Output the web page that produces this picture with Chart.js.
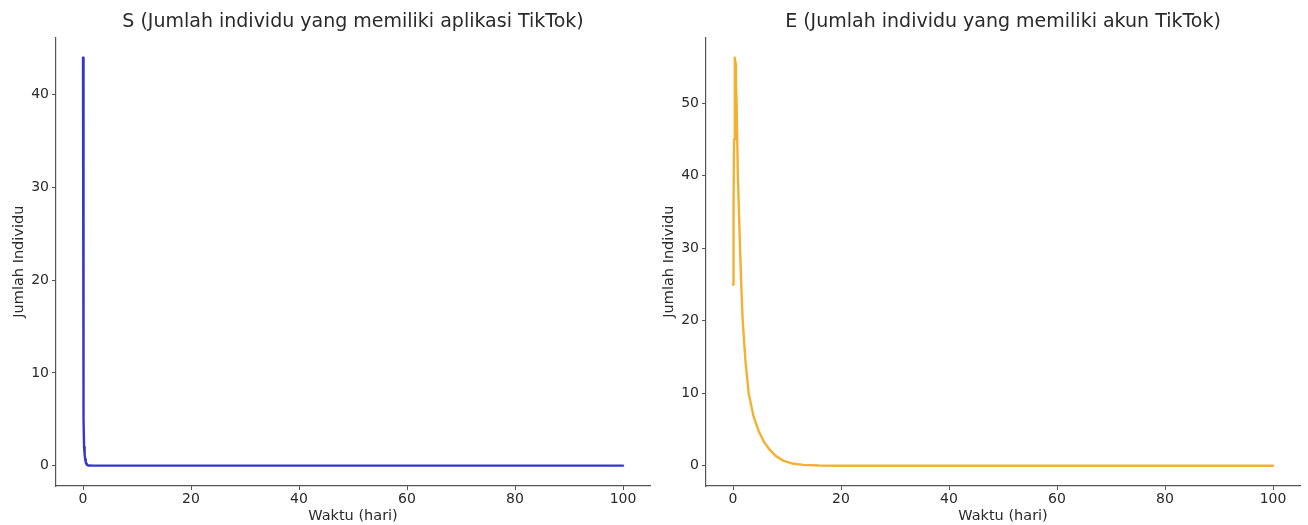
<!DOCTYPE html>
<html>
<head>
<meta charset="utf-8">
<script src="https://cdn.jsdelivr.net/npm/chart.js"></script>
<style>
  html, body { margin: 0; padding: 0; background: #fff; }
  .box { position: absolute; top: 0; width: 654px; height: 525px; }
  #left { left: 0; }
  #right { left: 654px; }
</style>
</head>
<body>
<div class="box" id="left"><canvas id="chartS"></canvas></div>
<div class="box" id="right"><canvas id="chartE"></canvas></div>
<script>
// values
const timeS = [0, 0.05, 0.1, 0.15, 0.2, 0.3, 0.4, 0.5, 0.6, 0.7, 0.8, 1, 2, 5, 10, 20, 40, 60, 80, 100];
const valS = [44, 24, 11, 5, 2, 1.2, 0.7, 0.4, 0.2, 0.1, 0.05, 0.01, 0, 0, 0, 0, 0, 0, 0, 0];

const timeE = [0, 0.1, 0.2, 0.3, 0.37, 0.45, 0.55, 0.67, 0.9, 1.1, 1.3, 1.55, 1.8, 2.3, 2.9, 3.8, 4.75,
  5.8, 6.9, 8, 9.3, 11, 13, 16, 20, 30, 40, 60, 80, 100];
const valE = [25, 36, 45, 52.5, 56.3, 55.5, 53, 50, 40, 35, 30, 24.5, 20, 14.5, 10, 6.8, 4.8,
  3.2, 2.1, 1.3, 0.7, 0.3, 0.12, 0.03, 0, 0, 0, 0, 0, 0];

const xTicks = [0, 20, 40, 60, 80, 100];
const yTicksS = [0, 10, 20, 30, 40];
const yTicksE = [0, 10, 20, 30, 40, 50];

const FONT = "'DejaVu Sans', sans-serif";
const AXIS = '#555';
const TXT = '#2a2a2a';

function toXY(ts, vs) {
  return ts.map((t, i) => ({ x: t, y: vs[i] }));
}

function makeChart(id, title, ts, vs, color, ymin, ymax, yTicks, yWidth, yTitlePad, padRight) {
  return new Chart(id, {
    type: 'line',
    data: {
      datasets: [{
        data: toXY(ts, vs),
        borderColor: color,
        borderWidth: 2.4,
        borderJoinStyle: 'round',
        borderCapStyle: 'round',
        pointRadius: 0,
        tension: 0,
        fill: false
      }]
    },
    options: {
      responsive: true,
      maintainAspectRatio: false,
      animation: false,
      layout: { padding: { left: 0, right: padRight, top: 0, bottom: 0 } },
      plugins: {
        legend: { display: false },
        tooltip: { enabled: false },
        title: {
          display: true,
          text: title,
          fullSize: false,
          color: TXT,
          font: { family: FONT, size: 19, weight: 'normal' },
          padding: { top: 10.5, bottom: 4 }
        }
      },
      scales: {
        x: {
          type: 'linear',
          min: -5,
          max: 105,
          afterBuildTicks: s => { s.ticks = xTicks.map(v => ({ value: v })); },
          afterFit: s => { s.height = 39; },
          ticks: { color: TXT, font: { family: FONT, size: 14 }, padding: 1, maxRotation: 0 },
          grid: { display: true, drawOnChartArea: false, drawTicks: true, tickLength: 4, color: AXIS },
          border: { display: true, color: AXIS, width: 1.2 },
          title: { display: true, text: 'Waktu (hari)', color: TXT, font: { family: FONT, size: 14.5 }, padding: { top: 1, bottom: 0 } }
        },
        y: {
          min: ymin,
          max: ymax,
          afterBuildTicks: s => { s.ticks = yTicks.map(v => ({ value: v })); },
          afterFit: s => { s.width = yWidth; },
          ticks: { color: TXT, font: { family: FONT, size: 14 }, padding: 3 },
          grid: { display: true, drawOnChartArea: false, drawTicks: true, tickLength: 4, color: AXIS },
          border: { display: true, color: AXIS, width: 1.2 },
          title: { display: true, text: 'Jumlah Individu', color: TXT, font: { family: FONT, size: 14.5 }, padding: { top: yTitlePad, bottom: 0 } }
        }
      }
    }
  });
}

makeChart('chartS', 'S (Jumlah individu yang memiliki aplikasi TikTok)', timeS, valS,
  '#3636cf', -2.2, 46.2, yTicksS, 56, 11, 4);
makeChart('chartE', 'E (Jumlah individu yang memiliki akun TikTok)', timeE, valE,
  '#f4b033', -2.8, 59.1, yTicksE, 52, 7, 8);
</script>
</body>
</html>
